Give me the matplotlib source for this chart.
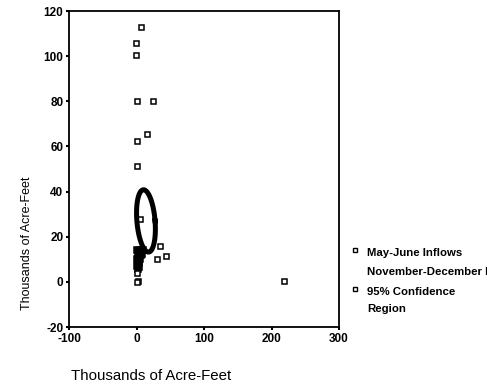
import numpy as np
import matplotlib
matplotlib.use("Agg")
import matplotlib.pyplot as plt
from matplotlib.lines import Line2D

plt.rcParams['font.family'] = ['Liberation Sans', 'DejaVu Sans']
plt.rcParams['axes.unicode_minus'] = False

# May-June vs November-December inflows (thousands of acre-feet)
may_june = [6, -1, -1, 1, 24, 15, 1, 0, 4.5, 35, 30, 44, 1.5, 219, 0, 1]
nov_dec = [113, 106, 100.5, 80, 80, 65.5, 62.5, 51.3, 27.8, 16, 10, 11.5, 0.5, 0.5, 0, 4]

# low-flow years, so close together that the squares merge into a black blob
low_may_june = [1, 3, 5, 7, 9, 2, 4, 6, 8, 1, 3, 5, 2, 4, 1, 3, 2]
low_nov_dec = [14, 13, 14, 13, 14, 12, 11, 12, 12.5, 10, 9.5, 10, 8, 8.5, 7, 6.5, 5.5]

# 95% confidence region
ell_center = (14, 27)
ell_semi = (13.5, 13.8)
ell_shear = -0.26

x_ticks = [-100, 0, 100, 200, 300]
y_ticks = [-20, 0, 20, 40, 60, 80, 100, 120]

fig = plt.figure(figsize=(4.87, 3.86), dpi=100)
ax = fig.add_axes([0.1417, 0.1528, 0.5545, 0.8187])

ax.plot(low_may_june, low_nov_dec, linestyle='none', marker='s', markersize=3.8,
        markerfacecolor='black', markeredgecolor='black', markeredgewidth=1.1)
ax.plot(may_june, nov_dec, linestyle='none', marker='s', markersize=3.6,
        markerfacecolor='white', markeredgecolor='black', markeredgewidth=1.1)

t = np.linspace(0, 2 * np.pi, 200)
ey = ell_semi[1] * np.sin(t)
ex = ell_semi[0] * np.cos(t) + ell_shear * ey
ax.plot(ell_center[0] + ex, ell_center[1] + ey, color='black', linewidth=3.6)

ax.set_xlim(-100, 300)
ax.set_ylim(-20, 120)
ax.set_xticks(x_ticks)
ax.set_yticks(y_ticks)
ax.tick_params(direction='out', length=2, width=1.5, labelsize=8.5, pad=2)
for lab in ax.get_xticklabels() + ax.get_yticklabels():
    lab.set_fontweight('bold')
for s in ax.spines.values():
    s.set_linewidth(1.3)

fig.text(0.31, 0.026, 'Thousands of Acre-Feet', fontsize=10.8, ha='center', va='center')
fig.text(0.055, 0.37, 'Thousands of Acre-Feet', fontsize=9, ha='center', va='center',
         rotation=90)

# legend drawn by hand, text runs off the right edge as in the original
fig.add_artist(Line2D([0.729], [0.352], marker='s', markersize=3.5, markerfacecolor='white',
                      markeredgecolor='black', markeredgewidth=1.0, linestyle='none'))
fig.add_artist(Line2D([0.729], [0.251], marker='s', markersize=3.5, markerfacecolor='white',
                      markeredgecolor='black', markeredgewidth=1.0, linestyle='none'))
fig.text(0.754, 0.344, 'May-June Inflows', fontsize=8.2, fontweight='bold', va='center')
fig.text(0.754, 0.295, 'November-December Inflows', fontsize=8.2, fontweight='bold', va='center')
fig.text(0.754, 0.243, '95% Confidence', fontsize=8.2, fontweight='bold', va='center')
fig.text(0.754, 0.199, 'Region', fontsize=8.2, fontweight='bold', va='center')

fig.savefig('out.png', dpi=100)
